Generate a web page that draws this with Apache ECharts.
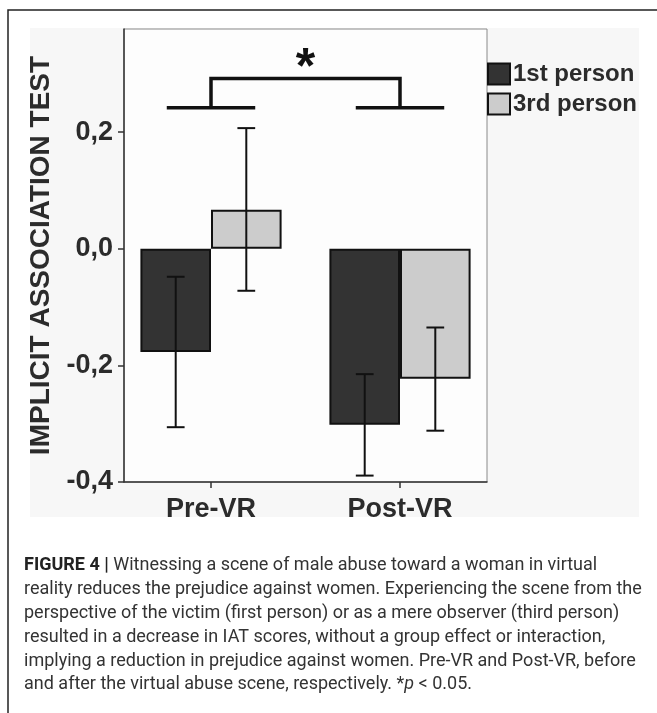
<!DOCTYPE html>
<html>
<head>
<meta charset="utf-8">
<script src="https://cdn.jsdelivr.net/npm/echarts@6/dist/echarts.min.js"></script>
<style>
html,body{margin:0;padding:0;background:#fff;}
#chart{width:657px;height:713px;}
</style>
</head>
<body>
<div id="chart"></div>
<script>
// ---- data ----
const categories = ['Pre-VR', 'Post-VR'];
const seriesNames = ['1st person', '3rd person'];
const firstPersonMean = [-0.177, -0.302];
const thirdPersonMean = [0.067, -0.223];
const firstPersonLow = [-0.306, -0.389];
const firstPersonHigh = [-0.048, -0.215];
const thirdPersonLow = [-0.072, -0.312];
const thirdPersonHigh = [0.207, -0.135];
const yTickValues = [-0.4, -0.2, 0, 0.2];
const yMin = -0.4;
const yMax = 0.377;
const bracketLevels = [0.242, 0.292];
const starLevel = 0.308;
const sigLabel = '*';
const axisTitle = 'IMPLICIT ASSOCIATION TEST';
const captionLines = [
  '{b|FIGURE 4 |} Witnessing a scene of male abuse toward a woman in virtual',
  'reality reduces the prejudice against women. Experiencing the scene from the',
  'perspective of the victim (first person) or as a mere observer (third person)',
  'resulted in a decrease in IAT scores, without a group effect or interaction,',
  'implying a reduction in prejudice against women. Pre-VR and Post-VR, before',
  'and after the virtual abuse scene, respectively. *{i|p} < 0.05.'
];

// ---- layout constants ----
const BAR_GAP_CAT = 0.253;
const barOffsetFrac = (1 - BAR_GAP_CAT) / 4;  // center offset of each bar in band units
const capFrac = 0.047;
const bracketHalfFrac = 0.234;
const txt = '#2b2b2b';
const font = 'Liberation Sans, Arial, sans-serif';
const capFont = 'Roboto, Liberation Sans, sans-serif';

const errData = [];
for (let i = 0; i < categories.length; i++) {
  errData.push([i, firstPersonLow[i], firstPersonHigh[i], 0]);
  errData.push([i, thirdPersonLow[i], thirdPersonHigh[i], 1]);
}

const chart = echarts.init(document.getElementById('chart'), null, {renderer: 'canvas'});
chart.setOption({
  backgroundColor: '#fff',
  animation: false,
  textStyle: {fontFamily: font},
  legend: {
    data: seriesNames,
    orient: 'vertical',
    left: 487, top: 62,
    padding: 0,
    itemWidth: 22, itemHeight: 21, itemGap: 6,
    icon: 'rect',
    textStyle: {fontSize: 24, fontWeight: 'bold', color: txt, fontFamily: font, padding: [0, 0, 0, -2]}
  },
  grid: [
    {left: 124, right: 170, top: 29, bottom: 231, show: true, borderColor: '#8a8a8a', borderWidth: 1, backgroundColor: '#fdfdfd', z: 0},
    {left: 116.5, right: 162.5, top: 29, bottom: 231}
  ],
  xAxis: [
    {gridIndex: 0, type: 'category', data: categories,
     axisLine: {show: true, onZero: false, lineStyle: {color: '#333', width: 1.5}},
     axisTick: {show: false}, axisLabel: {show: false}},
    {gridIndex: 1, type: 'category', data: categories,
     axisLine: {show: false, onZero: false},
     axisTick: {show: true, alignWithLabel: true, length: 6, lineStyle: {color: '#333', width: 1.5}},
     axisLabel: {fontSize: 27, fontWeight: 'bold', color: txt, fontFamily: font, margin: 14}}
  ],
  yAxis: [
    {gridIndex: 0, type: 'value', min: yMin, max: yMax,
     name: axisTitle, nameLocation: 'middle', nameGap: 66,
     nameTextStyle: {fontSize: 28, fontWeight: 'bold', color: txt, fontFamily: font},
     axisLine: {show: true, lineStyle: {color: '#333', width: 1.5}},
     axisTick: {show: true, length: 6, customValues: yTickValues, lineStyle: {color: '#333', width: 1.5}},
     axisLabel: {customValues: yTickValues, fontSize: 27, fontWeight: 'bold', color: txt, fontFamily: font, margin: 11,
       formatter: v => (Math.abs(v) < 1e-9 ? 0 : v).toFixed(1).replace('.', ',')},
     splitLine: {show: false}},
    {gridIndex: 1, type: 'value', min: yMin, max: yMax, show: false, splitLine: {show: false}}
  ],
  series: [
    {name: seriesNames[0], type: 'bar', xAxisIndex: 1, yAxisIndex: 1, data: firstPersonMean,
     barGap: '0%', barCategoryGap: (BAR_GAP_CAT * 100) + '%',
     itemStyle: {color: '#333333', borderColor: '#111', borderWidth: 2}},
    {name: seriesNames[1], type: 'bar', xAxisIndex: 1, yAxisIndex: 1, data: thirdPersonMean,
     barGap: '0%', barCategoryGap: (BAR_GAP_CAT * 100) + '%',
     itemStyle: {color: '#cccccc', borderColor: '#111', borderWidth: 2}},
    {type: 'custom', xAxisIndex: 1, yAxisIndex: 1, data: errData, z: 5,
     encode: {x: 0, y: [1, 2]},
     renderItem: function (params, api) {
       const cat = api.value(0);
       const lo = api.coord([cat, api.value(1)]);
       const hi = api.coord([cat, api.value(2)]);
       const band = api.size([1, 0])[0];
       const x = lo[0] + (api.value(3) === 0 ? -1 : 1) * band * barOffsetFrac;
       const cap = band * capFrac;
       const st = {stroke: '#111', lineWidth: 2, fill: null};
       return {type: 'group', children: [
         {type: 'line', shape: {x1: x, y1: lo[1], x2: x, y2: hi[1]}, style: st},
         {type: 'line', shape: {x1: x - cap, y1: lo[1], x2: x + cap, y2: lo[1]}, style: st},
         {type: 'line', shape: {x1: x - cap, y1: hi[1], x2: x + cap, y2: hi[1]}, style: st}
       ]};
     }},
    {type: 'custom', xAxisIndex: 1, yAxisIndex: 1, z: 6, silent: true,
     data: [[0, 1, bracketLevels[0], bracketLevels[1], starLevel]],
     encode: {x: [0, 1], y: [2, 3]},
     renderItem: function (params, api) {
       const a = api.coord([api.value(0), api.value(2)]);
       const b = api.coord([api.value(1), api.value(2)]);
       const topY = api.coord([api.value(0), api.value(3)])[1];
       const starY = api.coord([api.value(0), api.value(4)])[1];
       const band = api.size([1, 0])[0];
       const hw = band * bracketHalfFrac;
       const st = {stroke: '#111', lineWidth: 3.5, fill: null};
       return {type: 'group', children: [
         {type: 'line', shape: {x1: a[0] - hw, y1: a[1], x2: a[0] + hw, y2: a[1]}, style: st},
         {type: 'line', shape: {x1: b[0] - hw, y1: b[1], x2: b[0] + hw, y2: b[1]}, style: st},
         {type: 'polyline', shape: {points: [[a[0], a[1]], [a[0], topY], [b[0], topY], [b[0], b[1]]]}, style: st},
         {type: 'text', x: (a[0] + b[0]) / 2, y: starY,
          style: {text: sigLabel, fontSize: 50, fontWeight: 'bold', fontFamily: font, fill: '#111', align: 'center', verticalAlign: 'middle'}}
       ]};
     }}
  ],
  graphic: [
    {type: 'rect', z: -100, silent: true, shape: {x: 30, y: 28, width: 609, height: 489}, style: {fill: '#f7f7f7'}},
    {type: 'polyline', silent: true, shape: {points: [[8, 713], [8, 10], [657, 10]]}, style: {stroke: '#222', lineWidth: 1.5, fill: null}},
    {type: 'text', left: 24, top: 554, silent: true,
     style: {
       text: captionLines.join('\n'),
       fontSize: 18, fontFamily: capFont, lineHeight: 23.8, fill: '#333',
       rich: {
         b: {fontWeight: 'bold', fontSize: 18, fontFamily: capFont, lineHeight: 23.8, fill: '#222'},
         i: {fontStyle: 'italic', fontSize: 18, fontFamily: capFont, lineHeight: 23.8, fill: '#333'}
       }
     }}
  ]
});
</script>
</body>
</html>
